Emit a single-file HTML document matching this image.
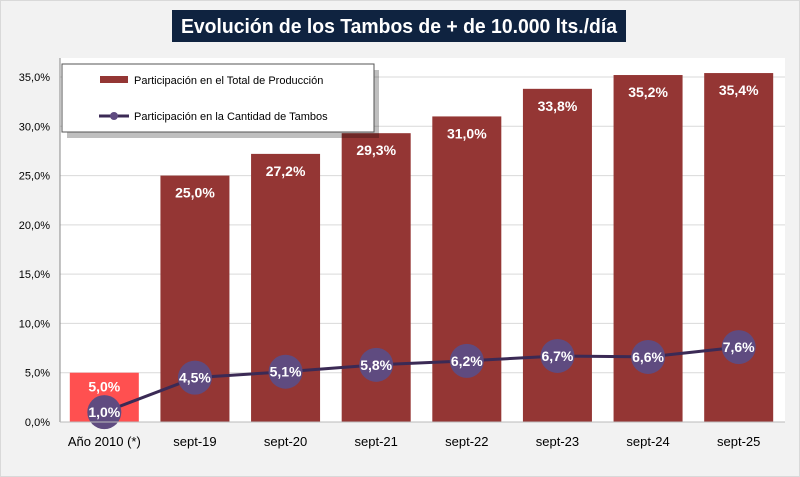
<!DOCTYPE html>
<html><head><meta charset="utf-8"><style>
html,body{margin:0;padding:0;background:#f2f2f2;}
body{width:800px;height:477px;overflow:hidden;font-family:"Liberation Sans",sans-serif;}
svg{display:block;}
</style></head><body>
<svg width="800" height="477" viewBox="0 0 800 477" xmlns="http://www.w3.org/2000/svg">
<rect x="0.5" y="0.5" width="799" height="476" fill="#f2f2f2" stroke="#d9d9d9"/>
<rect x="172" y="10" width="454" height="32" fill="#0f2340"/>
<text x="399" y="33" text-anchor="middle" fill="#fff" font-size="20" font-weight="bold" textLength="436" lengthAdjust="spacingAndGlyphs">Evolución de los Tambos de + de 10.000 lts./día</text>
<rect x="60" y="58" width="725" height="364" fill="#fff"/>
<g id="grid"></g><g id="bars"></g><g id="line"></g><g id="axis"></g>
<g>
<rect x="64" y="67" width="312" height="68" fill="#000" opacity="0.25" transform="translate(3,3)"/>
<rect x="62" y="64" width="312" height="68" fill="#fff" stroke="#555" stroke-width="1"/>
<rect x="100" y="76" width="28" height="7" fill="#943634"/>
<text x="134" y="84" font-size="11" fill="#000">Participación en el Total de Producción</text>
<line x1="99" y1="116" x2="129" y2="116" stroke="#3b2a55" stroke-width="3"/>
<circle cx="114" cy="116" r="4" fill="#5f4b80"/>
<text x="134" y="120" font-size="11" fill="#000">Participación en la Cantidad de Tambos</text>
</g>
</svg>
<script>
const categories=["Año 2010 (*)","sept-19","sept-20","sept-21","sept-22","sept-23","sept-24","sept-25"];
const production=[5.0,25.0,27.2,29.3,31.0,33.8,35.2,35.4];
const tambos=[1.0,4.5,5.1,5.8,6.2,6.7,6.6,7.6];
const ticks=[0,5,10,15,20,25,30,35];
const NS="http://www.w3.org/2000/svg";
const x0=60,x1=785,y0=422,yTop=77;
const y=v=>y0-(v/35)*(y0-yTop);
const bw=(x1-x0)/categories.length;
const xc=i=>x0+bw*(i+0.5)-1;
const fmt=v=>v.toFixed(1).replace('.',',')+'%';
function mk(tag,attrs,parent,text){const e=document.createElementNS(NS,tag);for(const k in attrs)e.setAttribute(k,attrs[k]);if(text!==undefined)e.textContent=text;document.getElementById(parent).appendChild(e);return e;}
ticks.forEach(t=>{
  if(t>0){const g=mk('line',{x1:x0,x2:x1,y1:y(t),y2:y(t),stroke:'#d9d9d9','stroke-width':1},'grid');
  
  }
  const l=mk('text',{x:50,y:y(t)+4,'text-anchor':'end','font-size':11,fill:'#000'},'axis',fmt(t));
  
  
});
const ax=mk('line',{x1:x0,x2:x0,y1:58,y2:y0,stroke:'#888'},'axis');


const bx=mk('line',{x1:x0,x2:x1,y1:y0,y2:y0,stroke:'#bbb'},'axis');


categories.forEach((c,i)=>{
  const w=69;
  const r=mk('rect',{x:xc(i)-w/2,y:y(production[i]),width:w,height:y0-y(production[i]),fill:i===0?'#ff5050':'#943634'},'bars');
  
  
  const t=mk('text',{x:xc(i),y:y(production[i])+(i===0?19:22),'text-anchor':'middle','font-size':14,'font-weight':'bold',fill:'#fff'},'bars',fmt(production[i]));
  
  
  const xl=mk('text',{x:xc(i),y:446,'text-anchor':'middle','font-size':13,fill:'#000'},'axis',c);
  
  
});
const pl=mk('polyline',{points:tambos.map((v,i)=>xc(i)+','+y(v)).join(' '),fill:'none',stroke:'#3b2a55','stroke-width':3},'line');


tambos.forEach((v,i)=>{
  const c=mk('circle',{cx:xc(i),cy:y(v),r:17,fill:'#5f4b80'},'line');
  
  
  const t=mk('text',{x:xc(i),y:y(v)+5,'text-anchor':'middle','font-size':14,'font-weight':'bold',fill:'#fff'},'line',fmt(v));
  
  
});
</script>
</body></html>
